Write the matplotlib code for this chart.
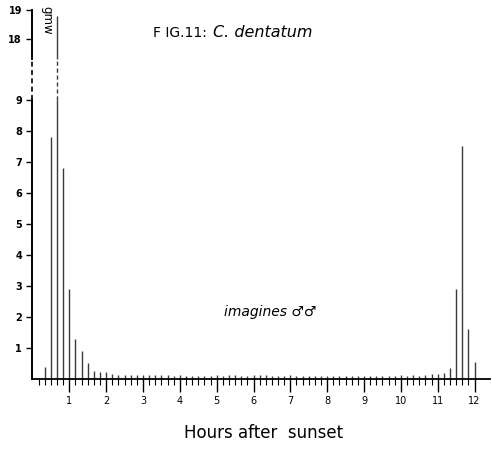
import numpy as np
import matplotlib
matplotlib.use("Agg")
import matplotlib.pyplot as plt
from matplotlib.ticker import FixedLocator

# Catch per 10-minute interval after sunset (imagines, males).
minutes = np.arange(10, 730, 10)
catch = [
    0.0, 0.4, 7.8, 18.8, 6.8, 2.9, 1.3, 0.9, 0.5, 0.27, 0.24, 0.23, 0.15,
    0.14, 0.13, 0.12, 0.12, 0.14, 0.13,
    0.12, 0.13, 0.12, 0.11, 0.12, 0.10,
    0.11, 0.10, 0.10, 0.11, 0.12, 0.10,
    0.12, 0.14, 0.10, 0.11, 0.12, 0.13,
    0.12, 0.11, 0.10, 0.11, 0.12, 0.10,
    0.10, 0.11, 0.10, 0.10, 0.11, 0.10,
    0.09, 0.10, 0.10, 0.11, 0.10, 0.10,
    0.11, 0.10, 0.09, 0.10, 0.12, 0.10,
    0.13, 0.11, 0.14,
    0.15, 0.15, 0.20, 0.35, 2.9, 7.5, 1.6, 0.55,
]
hours = minutes / 60.0

x_ticks = list(range(1, 13))
y_ticks = [1, 2, 3, 4, 5, 6, 7, 8, 9, 18, 19]

# broken y axis: 0-9 to scale, 9-18 squeezed, 18-19 to scale again
BREAK_LO, BREAK_HI = 9.0, 18.0
SQUEEZE = 0.2186
TOP_SCALE = 0.935
GAP_TOP = 15.0  # end of the dashed part of the axis


def fwd(y):
    y = np.asarray(y, dtype=float)
    mid = BREAK_LO + (BREAK_HI - BREAK_LO) * SQUEEZE
    return np.where(y <= BREAK_LO, y,
                    np.where(y <= BREAK_HI, BREAK_LO + (y - BREAK_LO) * SQUEEZE,
                             mid + (y - BREAK_HI) * TOP_SCALE))


def inv(t):
    t = np.asarray(t, dtype=float)
    mid = BREAK_LO + (BREAK_HI - BREAK_LO) * SQUEEZE
    return np.where(t <= BREAK_LO, t,
                    np.where(t <= mid, BREAK_LO + (t - BREAK_LO) / SQUEEZE,
                             BREAK_HI + (t - mid) / TOP_SCALE))


fig = plt.figure(figsize=(4.92, 4.49), dpi=100)
ax = fig.add_axes([0.066, 0.156, 0.930, 0.822])
ax.set_yscale("function", functions=(fwd, inv))
ax.set_xlim(0, 12.42)
ax.set_ylim(0, 19)

bar_color = "#3a3a3a"
catch = np.array(catch)
ax.vlines(hours, 0, np.minimum(catch, BREAK_LO), color=bar_color, lw=1.0)
tall = catch > BREAK_LO
ax.vlines(hours[tall], BREAK_LO, np.minimum(catch[tall], GAP_TOP),
          color=bar_color, lw=1.0, linestyles=(0, (3, 2)))
taller = catch > GAP_TOP
ax.vlines(hours[taller], GAP_TOP, catch[taller], color=bar_color, lw=1.0)

# left axis line drawn by hand so the break can be dashed
for spine in ("left", "top", "right"):
    ax.spines[spine].set_visible(False)
ax.spines["bottom"].set_linewidth(1.3)
yax = ax.get_yaxis_transform()
ax.plot([0, 0], [0, BREAK_LO], color="black", lw=1.4, transform=yax, clip_on=False)
ax.plot([0, 0], [BREAK_LO, GAP_TOP], color="black", lw=1.2, ls=(0, (3, 2)),
        transform=yax, clip_on=False)
ax.plot([0, 0], [GAP_TOP, 19], color="black", lw=1.4, transform=yax, clip_on=False)

ax.set_xticks(x_ticks)
ax.set_xticklabels([str(v) for v in x_ticks], fontsize=7)
ax.xaxis.set_minor_locator(FixedLocator([h for h in hours if h % 1 != 0]))
ax.tick_params(axis="x", which="major", direction="out", length=9.5, width=1.0, pad=3)
ax.tick_params(axis="x", which="minor", direction="out", length=4, width=0.8)

ax.set_yticks(y_ticks)
ax.set_yticklabels([str(v) for v in y_ticks], fontsize=7, fontweight="bold")
ax.yaxis.set_minor_locator(FixedLocator([]))
ax.tick_params(axis="y", direction="out", length=4.5, width=1.0, pad=3)

ax.text(5.19, 2.17, "imagines \u2642\u2642", fontsize=10, style="italic",
        ha="left", va="center")

fig.text(0.311, 0.927, "F IG.11:", fontsize=10, ha="left", va="center")
fig.text(0.433, 0.927, "C. dentatum", fontsize=11.5, style="italic",
         ha="left", va="center")
fig.text(0.0945, 0.955, "gmw", fontsize=8.5, rotation=-90, ha="center", va="center")
fig.text(0.535, 0.036, "Hours after  sunset", fontsize=12, ha="center", va="center")

fig.savefig("out.png", dpi=100)
